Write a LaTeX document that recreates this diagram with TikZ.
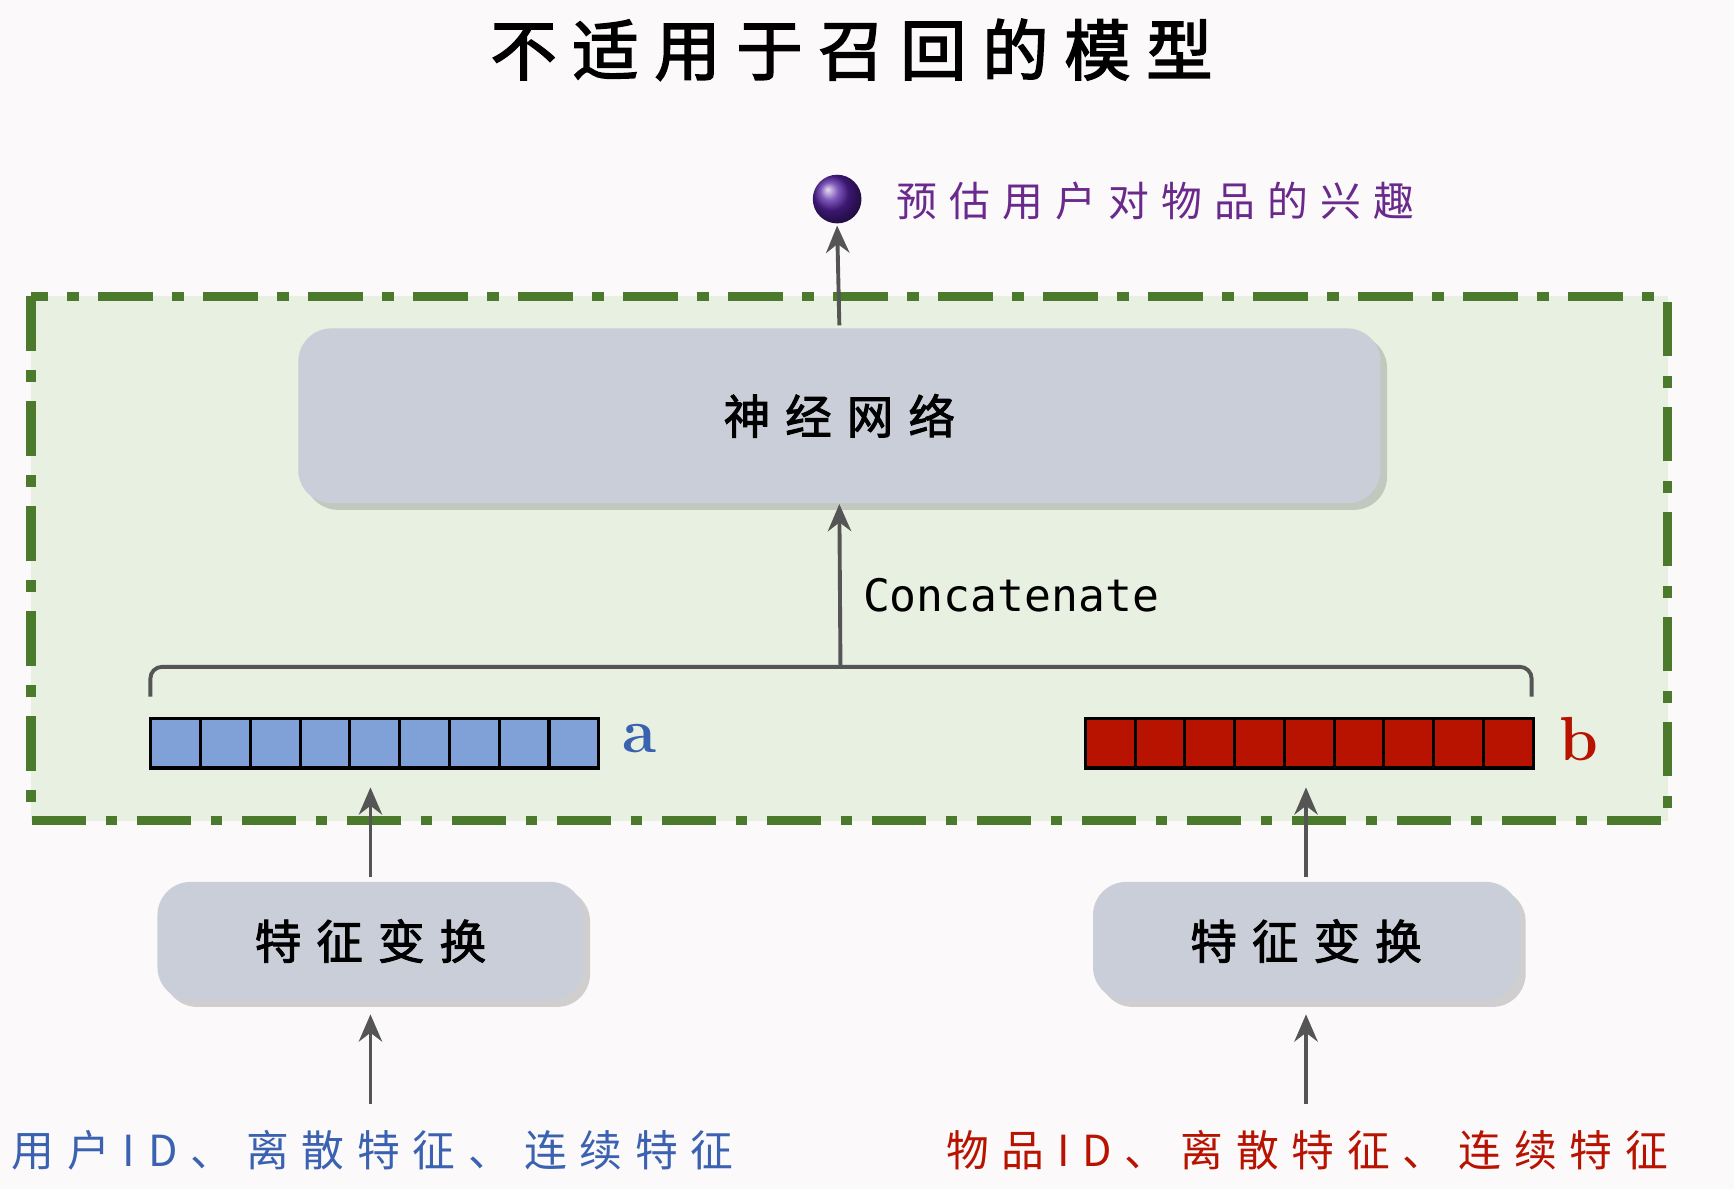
\documentclass[tikz,border=0pt]{standalone}
\usepackage{fontspec}
\newfontfamily\cjk{Noto Sans CJK SC}[LetterSpace=30]
\newfontfamily\cjkb{Noto Sans CJK SC}[FakeBold=2,LetterSpace=32]
\newfontfamily\cjkt{Noto Sans CJK SC}[FakeBold=2.5,LetterSpace=24]
\newfontfamily\monof{DejaVu Sans Mono}
\usetikzlibrary{arrows.meta,shadows}
\definecolor{bg}{HTML}{FBF9FA}
\definecolor{gfill}{HTML}{E8F0E1}
\definecolor{gline}{HTML}{4C7A2C}
\definecolor{boxc}{HTML}{C9CED8}
\definecolor{arr}{HTML}{555555}
\definecolor{acol}{HTML}{80A0D8}
\definecolor{bcol}{HTML}{B81200}
\definecolor{blueT}{HTML}{3A62B0}
\definecolor{purp}{HTML}{6A2A8C}
\tikzset{
 box/.style={draw=none,fill=boxc,rounded corners=0.3cm,drop shadow={shadow xshift=0.06cm,shadow yshift=-0.06cm,opacity=0.35}},
 ar/.style={draw=arr,line width=1pt,-{Stealth[length=7pt,width=6pt]}},
 cell/.style={draw=black,line width=0.8pt,minimum width=0.45cm,minimum height=0.45cm,inner sep=0pt},
}
\begin{document}
\begin{tikzpicture}[x=0.01cm,y=-0.01cm]
\fill[bg] (0,0) rectangle (1568,1075);
\useasboundingbox (0,0) rectangle (1568,1075);
\node (title) at (770,45) {\cjkt\fontsize{17pt}{19pt}\selectfont 不适用于召回的模型};
\draw[fill=gfill,draw=gline,line width=2.4pt,dash pattern=on 14pt off 5pt on 3pt off 5pt] (28,268) rectangle (1508,742);
\node[box,minimum width=9.78cm,minimum height=1.58cm] (nn) at (759,376) {\cjkb\fontsize{12pt}{14pt}\selectfont 神经网络};
\shade[ball color=purp!80!blue] (757,180) circle (22);
\coordinate (ball) at (757,204);
\node[anchor=west,text=purp] (pred) at (798,182) {\cjk\fontsize{10.5pt}{12pt}\selectfont 预估用户对物品的兴趣};
\draw[ar] (nn.north) ++(0,-2) -- (ball);
% vectors
\foreach \i in {0,...,8}{
 \node[cell,fill=acol,anchor=north west] (a\i) at (135+45*\i,648) {};
 \node[cell,fill=bcol,anchor=north west] (b\i) at (980+45*\i,648) {};
}
\node[text=blueT,font=\bfseries\fontsize{16pt}{18pt}\selectfont] (la) at (578,668) {a};
\node[text=bcol,font=\bfseries\fontsize{16pt}{18pt}\selectfont] (lb) at (1428,668) {b};
% brace
\draw[arr,line width=1pt,rounded corners=3pt] (136,630) -- (136,603) -- (1385,603) -- (1385,630);
\coordinate (bm) at (760,603);
\draw[ar] (bm) -- (nn.south);
\node[anchor=west] (cc) at (768,538) {\monof\fontsize{11.5pt}{13pt}\selectfont Concatenate};
% feature boxes
\node[box,minimum width=3.85cm,minimum height=1.07cm] (fa) at (335,851) {\cjkb\fontsize{12pt}{14pt}\selectfont 特征变换};
\node[box,minimum width=3.85cm,minimum height=1.07cm] (fb) at (1181,851) {\cjkb\fontsize{12pt}{14pt}\selectfont 特征变换};
\coordinate (av) at (335,712);
\coordinate (bv) at (1181,712);
\draw[ar] (fa.north) ++(0,-4) -- (av);
\draw[ar] (fb.north) ++(0,-4) -- (bv);
\node[text=blueT] (ua) at (337,1040) {\cjk\fontsize{11pt}{13pt}\selectfont 用户ID、离散特征、连续特征};
\node[text=bcol] (ub) at (1182,1040) {\cjk\fontsize{11pt}{13pt}\selectfont 物品ID、离散特征、连续特征};
\draw[ar] (335,998) -- ([yshift=-0.12cm]fa.south);
\draw[ar] (1181,998) -- ([yshift=-0.12cm]fb.south);
\end{tikzpicture}
\end{document}
